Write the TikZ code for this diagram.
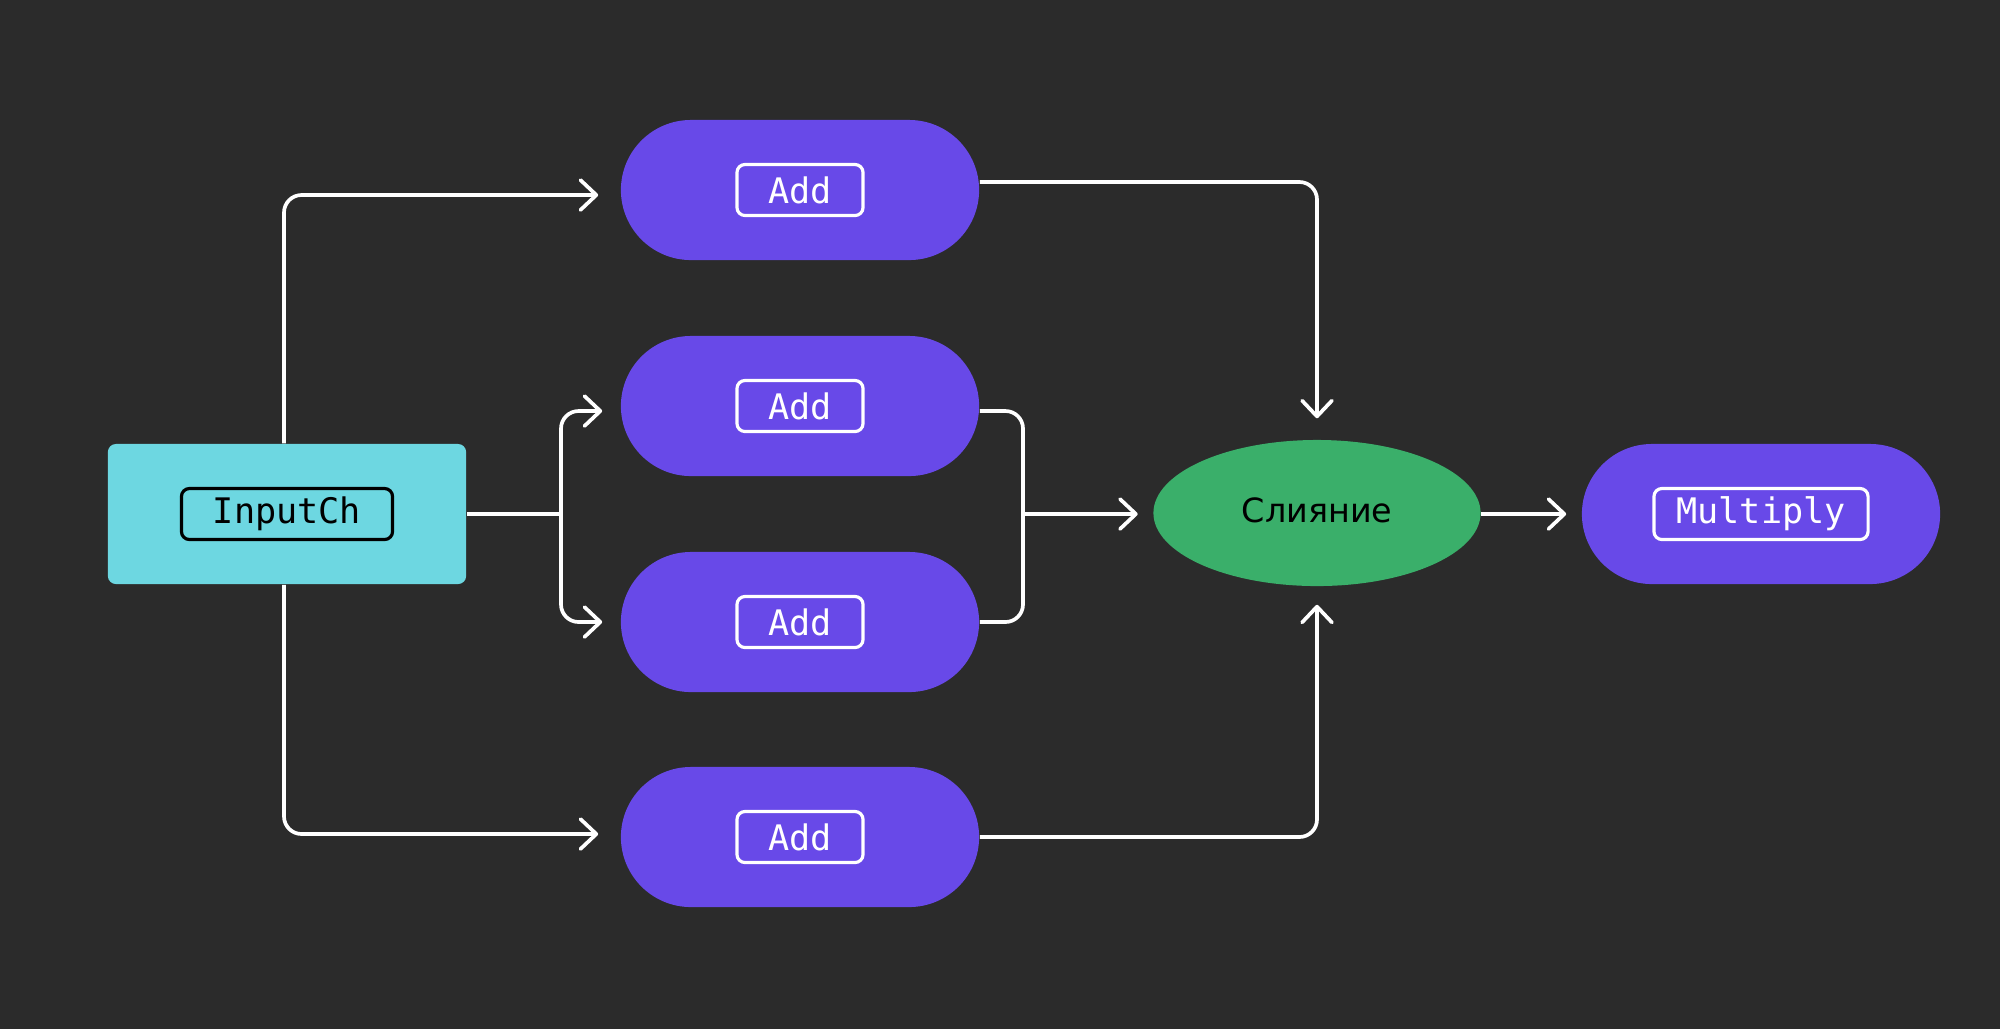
\documentclass[tikz,border=0pt]{standalone}
\usepackage{fontspec}
\setmainfont{DejaVu Sans}
\setsansfont{DejaVu Sans}
\setmonofont{DejaVu Sans Mono}
\usetikzlibrary{positioning,arrows.meta,shapes.geometric}
\definecolor{flowBg}{HTML}{2B2B2B}
\definecolor{flowCyan}{HTML}{6DD7E1}
\definecolor{flowViolet}{HTML}{6849E8}
\definecolor{flowGreen}{HTML}{3AAF6A}
\tikzset{
  block/.style={inner sep=0pt, minimum width=3.58cm, minimum height=1.4cm},
  blockCyan/.style={block, fill=flowCyan, rounded corners=0.08cm},
  blockViolet/.style={block, fill=flowViolet, rounded corners=0.7cm},
  blockGreen/.style={block, ellipse, fill=flowGreen, minimum width=3.27cm, minimum height=1.46cm, font=\fontsize{9.5}{11}\selectfont},
  tag/.style={draw, line width=0.9pt, rounded corners=0.08cm, minimum height=0.51cm, inner sep=0pt, font=\ttfamily\fontsize{10}{12}\selectfont},
  tagDark/.style={tag, draw=black, text=black},
  tagLight/.style={tag, draw=white, text=white},
  link/.style={draw=white, line width=1.05pt, rounded corners=5pt},
  arrow/.style={link, -{Straight Barb[length=4.5pt,width=8.5pt,round]}}
}

\begin{document}
\begin{tikzpicture}[x=0.01cm, y=-0.01cm]
  \fill[flowBg] (0,0) rectangle (2000,1029);

  \node[blockCyan] (input) at (287,514) {};
  \node[tagDark, minimum width=2.11cm] (inputTag) at (input) {InputCh};

  \node[blockViolet] (add1) at (800,190) {};
  \node[tagLight, minimum width=1.26cm] (add1Tag) at (add1) {Add};
  \node[blockViolet] (add2) at (800,406) {};
  \node[tagLight, minimum width=1.26cm] (add2Tag) at (add2) {Add};
  \node[blockViolet] (add3) at (800,622) {};
  \node[tagLight, minimum width=1.26cm] (add3Tag) at (add3) {Add};
  \node[blockViolet] (add4) at (800,837) {};
  \node[tagLight, minimum width=1.26cm] (add4Tag) at (add4) {Add};

  \node[blockGreen] (merge) at (1317,513) {\raisebox{0.05cm}{Слияние}};

  \node[blockViolet] (mult) at (1761,514) {};
  \node[tagLight, minimum width=2.14cm] (multTag) at (mult) {Multiply};

  \coordinate (split) at (561,514);
  \coordinate (join) at (1023,514);

  \draw[arrow, shorten >=0.22cm] ([xshift=-0.03cm]input.north) |- ([yshift=-0.05cm]add1.west);
  \draw[arrow, shorten >=0.22cm] ([xshift=-0.03cm]input.south) |- ([yshift=0.03cm]add4.west);
  \draw[link] (input.east) -- (split);
  \draw[arrow, shorten >=0.18cm] (split) |- ([yshift=-0.05cm]add2.west);
  \draw[arrow, shorten >=0.18cm] (split) |- (add3.west);

  \draw[link] ([yshift=-0.05cm]add2.east) -| (join);
  \draw[link] (add3.east) -| (join);
  \draw[arrow, shorten >=0.15cm] (join) -- (join -| merge.west);
  \draw[arrow, shorten >=0.21cm] ([yshift=0.08cm]add1.east) -| (merge.north);
  \draw[arrow, shorten >=0.18cm] (add4.east) -| (merge.south);
  \draw[arrow, shorten >=0.15cm] (merge.east |- input) -- (mult.west);
\end{tikzpicture}
\end{document}
